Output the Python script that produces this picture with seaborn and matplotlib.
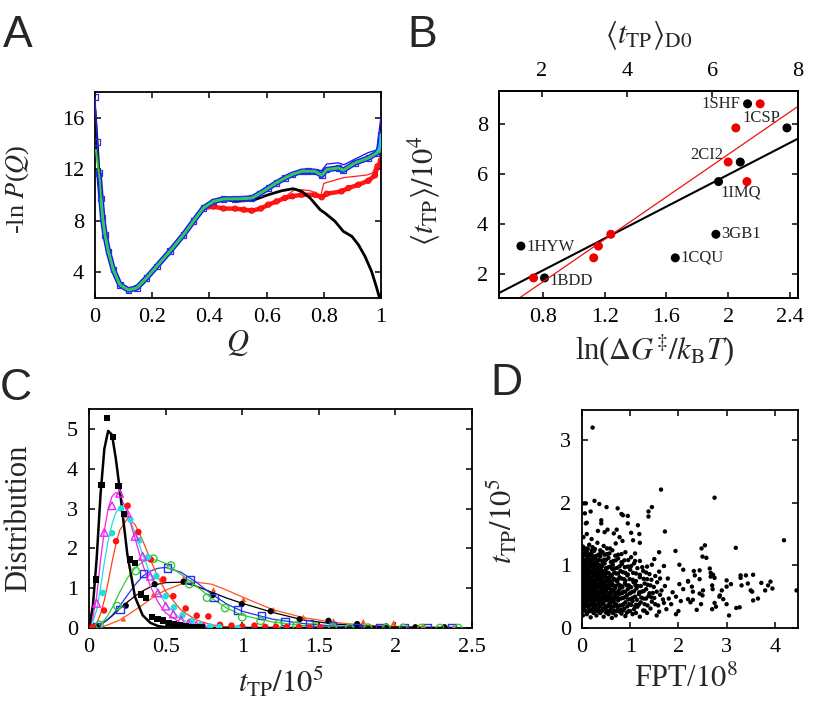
import matplotlib
matplotlib.use("Agg")
import matplotlib.pyplot as plt
import seaborn as sns

# ---------------- Panel A : -ln P(Q) ----------------
qA_base = [0.0, 0.008, 0.014, 0.021, 0.027, 0.035, 0.047, 0.064, 0.087, 0.117, 0.146,
           0.18, 0.216, 0.262, 0.309, 0.344, 0.379, 0.414, 0.449]
vA_base = [17.6, 14.1, 11.7, 9.74, 8.2, 6.9, 5.6, 4.2, 3.03, 2.62, 2.78,
           3.55, 4.46, 5.63, 6.9, 7.96, 8.99, 9.5, 9.69]
qA_main_tail = [0.49, 0.52, 0.548, 0.575, 0.606, 0.635, 0.664, 0.69, 0.723, 0.745, 0.769,
                0.793, 0.81, 0.851, 0.868, 0.909, 0.956, 0.985, 0.995, 1.0]
vA_main_tail = [9.7, 9.72, 9.77, 10.1, 10.54, 10.95, 11.32, 11.6, 11.84, 11.85, 11.84,
                11.53, 11.97, 12.1, 11.92, 12.49, 12.87, 13.26, 13.6, 14.7]
qA_black_tail = [0.49, 0.52, 0.559, 0.606, 0.653, 0.693, 0.723, 0.752, 0.787, 0.804, 0.839,
                 0.868, 0.898, 0.921, 0.944, 0.967, 0.985, 0.995]
vA_black_tail = [9.51, 9.55, 9.64, 10.02, 10.33, 10.49, 10.28, 9.77, 8.86, 8.6, 7.96,
                 7.18, 6.79, 6.14, 5.24, 4.07, 2.78, 2.0]
qA_red_tail = [0.414, 0.449, 0.49, 0.52, 0.548, 0.58, 0.606, 0.635, 0.664, 0.69, 0.723,
               0.769, 0.793, 0.81, 0.862, 0.886, 0.921, 0.956, 0.979, 0.988, 1.0]
vA_red_tail = [9.1, 8.95, 8.94, 8.86, 8.78, 8.95, 9.25, 9.5, 9.77, 9.9, 10.02,
               10.02, 9.82, 10.1, 10.28, 10.54, 10.8, 11.11, 11.53, 12.23, 12.7]
qA_red_thin = [0.664, 0.70, 0.75, 0.79, 0.80, 0.83, 0.87, 0.91, 0.95, 0.97, 0.98, 1.0]
vA_red_thin = [9.85, 10.45, 10.35, 10.0, 10.9, 11.1, 11.35, 11.45, 11.55, 11.7, 12.2, 12.8]
qA_blue_thin = [0.55, 0.6, 0.664, 0.70, 0.75, 0.793, 0.81, 0.85, 0.87, 0.91, 0.956, 0.985, 1.0]
vA_blue_thin = [9.8, 10.6, 11.45, 11.8, 12.0, 11.9, 12.4, 12.5, 12.35, 12.8, 13.3, 13.5, 16.1]
qA_green_head = [0.003, 0.0175]
vA_green_head = [13.5, 11.06]
qA_ticks = [0, 0.2, 0.4, 0.6, 0.8, 1]
qA_ticklabels = ["0", "0.2", "0.4", "0.6", "0.8", "1"]
vA_ticks = [4, 8, 12, 16]

# ---------------- Panel B : <t_TP> vs barrier ----------------
proteins = ["1BDD", "1CQU", "1HYW", "3GB1", "1IMQ", "2CI2", "1CSP", "1SHF"]
tTP_mean = [1.85, 2.65, 3.12, 3.59, 5.69, 6.47, 7.83, 8.79]
lnG = [0.81, 1.657, 0.657, 1.92, 1.937, 2.078, 2.38, 2.125]
tTP_D0 = [1.81, 3.22, 3.33, 3.62, 6.81, 6.37, 6.55, 7.12]
label_x = [0.841, 1.689, 0.696, 1.953, 1.948, 1.97, 2.089, 2.078]
label_y = [1.73, 2.65, 3.09, 3.6, 5.24, 6.76, 8.24, 8.8]
label_ha = ["left", "left", "left", "left", "left", "right", "left", "right"]

# ---------------- Panel C : t_TP distributions ----------------
fit_x = [0, 0.025, 0.05, 0.075, 0.1, 0.125, 0.15, 0.175, 0.2, 0.25, 0.3, 0.35, 0.4, 0.45,
         0.5, 0.6, 0.7, 0.8, 0.9, 1.0, 1.2, 1.4, 1.6, 1.8, 2.0, 2.2, 2.4]
fit_black_thick = [0, 0.55, 1.75, 3.35, 4.5, 4.95, 4.85, 4.25, 3.5, 1.85, 0.78, 0.32, 0.13, 0.05,
                   0.02, 0.005, 0, 0, 0, 0, 0, 0, 0, 0, 0, 0, 0]
fit_magenta = [0, 0.25, 0.8, 1.7, 2.45, 3.0, 3.3, 3.4, 3.35, 2.9, 2.25, 1.6, 1.05, 0.65,
               0.38, 0.12, 0.03, 0.01, 0, 0, 0, 0, 0, 0, 0, 0, 0]
fit_cyan = [0, 0.15, 0.45, 1.0, 1.65, 2.2, 2.6, 2.9, 3.0, 2.85, 2.4, 1.85, 1.35, 0.92,
            0.6, 0.22, 0.07, 0.02, 0.01, 0, 0, 0, 0, 0, 0, 0, 0]
fit_red = [0, 0.03, 0.12, 0.35, 0.7, 1.15, 1.65, 2.1, 2.45, 2.75, 2.6, 2.2, 1.72, 1.28,
           0.92, 0.45, 0.2, 0.08, 0.03, 0.01, 0, 0, 0, 0, 0, 0, 0]
fit_green = [0, 0.01, 0.05, 0.1, 0.2, 0.33, 0.5, 0.7, 0.9, 1.25, 1.5, 1.66, 1.72, 1.7,
             1.62, 1.35, 1.05, 0.75, 0.5, 0.32, 0.15, 0.06, 0.02, 0.01, 0, 0, 0]
fit_blue = [0, 0.01, 0.04, 0.09, 0.15, 0.23, 0.32, 0.43, 0.55, 0.82, 1.08, 1.3, 1.43, 1.5,
            1.52, 1.4, 1.15, 0.85, 0.6, 0.42, 0.22, 0.11, 0.05, 0.02, 0.01, 0, 0]
fit_black_thin = [0, 0.01, 0.05, 0.1, 0.15, 0.22, 0.3, 0.39, 0.48, 0.65, 0.8, 0.93, 1.03, 1.1,
                  1.14, 1.15, 1.05, 0.9, 0.75, 0.62, 0.39, 0.2, 0.1, 0.05, 0.02, 0.01, 0]
fit_orange = [0, 0.0, 0.01, 0.02, 0.05, 0.08, 0.12, 0.16, 0.2, 0.32, 0.45, 0.58, 0.72, 0.85,
              0.95, 1.1, 1.15, 1.1, 0.95, 0.78, 0.46, 0.26, 0.14, 0.07, 0.04, 0.02, 0.01]

sq_black_x = [0.046, 0.082, 0.119, 0.155, 0.192, 0.228, 0.265, 0.301, 0.338, 0.374, 0.41,
              0.447, 0.483, 0.52, 0.556, 0.593, 0.629, 0.666, 0.702, 0.739]
sq_black_y = [1.22, 3.6, 5.28, 4.79, 3.57, 2.86, 1.72, 1.64, 0.84, 0.76, 0.27,
              0.22, 0.19, 0.13, 0.09, 0.06, 0.04, 0.02, 0.02, 0.01]
tri_mag_x = [0.05, 0.1, 0.15, 0.2, 0.25, 0.3, 0.35, 0.4, 0.45, 0.5, 0.55, 0.6, 0.65, 0.7, 0.75]
tri_mag_y = [0.62, 2.4, 3.07, 3.38, 2.88, 2.3, 1.8, 1.3, 0.88, 0.55, 0.35, 0.2, 0.12, 0.07, 0.04]
circ_cyan_x = [0.09, 0.15, 0.21, 0.27, 0.33, 0.385, 0.44, 0.5, 0.555, 0.61, 0.67, 0.73, 0.79, 0.85, 0.97]
circ_cyan_y = [0.88, 2.38, 3.0, 2.72, 2.2, 1.78, 1.3, 0.8, 0.52, 0.32, 0.18, 0.08, 0.04, 0.02, 0.0]
circ_red_x = [0.022, 0.098, 0.176, 0.252, 0.322, 0.403, 0.485, 0.55, 0.631, 0.703, 0.779,
              0.855, 0.93, 1.0, 1.08, 1.15, 1.22, 1.29, 1.37, 1.44, 1.51]
circ_red_y = [0.02, 0.44, 2.18, 3.07, 2.41, 1.72, 1.22, 0.8, 0.49, 0.31, 0.29,
              0.08, 0.06, 0.04, 0.06, 0.03, 0.03, 0.02, 0.02, 0.01, 0.01]
circ_green_x = [0.068, 0.185, 0.305, 0.42, 0.535, 0.655, 0.77, 0.888, 1.0, 1.12, 1.235,
                1.355, 1.47, 1.59, 1.7, 1.82, 1.94, 2.05, 2.17, 2.29, 2.41]
circ_green_y = [0.08, 0.55, 1.43, 1.74, 1.57, 1.1, 0.76, 0.5, 0.27, 0.18, 0.1,
                0.06, 0.04, 0.02, 0.01, 0.01, 0.0, 0.0, 0.0, 0.0, 0.0]
sq_blue_x = [0.048, 0.202, 0.355, 0.511, 0.66, 0.816, 0.97, 1.127, 1.28, 1.438, 1.59,
             1.75, 1.9, 2.06, 2.21, 2.37]
sq_blue_y = [0.03, 0.46, 1.37, 1.51, 1.22, 0.76, 0.45, 0.31, 0.17, 0.11, 0.06,
             0.02, 0.02, 0.01, 0.0, 0.0]
dot_black_x = [0.05, 0.24, 0.428, 0.617, 0.807, 0.997, 1.186, 1.375, 1.563, 1.75, 1.94, 2.13, 2.32]
dot_black_y = [0.03, 0.56, 1.1, 1.16, 0.83, 0.6, 0.42, 0.22, 0.18, 0.1, 0.04, 0.02, 0.02]
tri_orange_x = [0.028, 0.224, 0.42, 0.617, 0.812, 1.008, 1.204, 1.4, 1.596, 1.79, 1.988, 2.18, 2.38]
tri_orange_y = [0.0, 0.23, 0.84, 1.25, 0.96, 0.72, 0.46, 0.27, 0.18, 0.16, 0.13, 0.06, 0.02]

# ---------------- Panel D : t_TP vs FPT (FPT/1e8, tTP/1e5) ----------------
fpt_ttp_pairs = [
    (0.02, 0.2), (0.1, 0.22), (0.18, 0.17), (0.3, 0.2), (0.38, 0.24), (0.45, 0.18), (0.55, 0.22),
    (0.62, 0.16), (0.7, 0.2), (0.82, 0.23), (0.9, 0.19), (1.05, 0.22), (1.2, 0.18), (1.35, 0.24),
    (1.55, 0.2), (1.95, 0.22), (3.05, 0.2),
    (0.03, 0.3), (0.08, 0.27), (0.14, 0.32), (0.2, 0.28), (0.26, 0.33), (0.33, 0.3), (0.4, 0.27),
    (0.48, 0.32), (0.52, 0.28), (0.6, 0.31), (0.67, 0.27), (0.74, 0.33), (0.8, 0.29), (0.88, 0.31),
    (0.97, 0.27), (1.08, 0.3), (1.15, 0.34), (1.27, 0.28), (1.42, 0.31), (1.6, 0.26), (1.75, 0.3),
    (2.0, 0.27), (2.38, 0.29), (2.7, 0.3), (3.2, 0.32), (3.27, 0.33), (2.78, 0.34),
    (0.01, 0.4), (0.06, 0.37), (0.11, 0.43), (0.16, 0.38), (0.22, 0.42), (0.28, 0.36), (0.35, 0.41),
    (0.42, 0.38), (0.47, 0.44), (0.55, 0.37), (0.61, 0.42), (0.68, 0.39), (0.75, 0.44), (0.83, 0.36),
    (0.9, 0.41), (0.98, 0.38), (1.05, 0.43), (1.12, 0.37), (1.22, 0.41), (1.3, 0.38), (1.45, 0.42),
    (1.58, 0.36), (1.7, 0.4), (1.85, 0.38), (2.05, 0.43), (2.25, 0.41), (2.47, 0.38), (2.75, 0.4),
    (3.0, 0.38), (3.55, 0.44), (2.3, 0.45), (2.93, 0.46),
    (0.02, 0.5), (0.05, 0.46), (0.09, 0.53), (0.13, 0.48), (0.19, 0.51), (0.24, 0.47), (0.29, 0.54),
    (0.34, 0.49), (0.39, 0.46), (0.44, 0.52), (0.5, 0.48), (0.57, 0.53), (0.63, 0.47), (0.7, 0.5),
    (0.77, 0.54), (0.85, 0.48), (0.93, 0.52), (1.0, 0.46), (1.1, 0.5), (1.18, 0.54), (1.28, 0.47),
    (1.38, 0.51), (1.5, 0.48), (1.62, 0.53), (1.8, 0.47), (1.95, 0.5), (2.2, 0.46), (2.5, 0.52),
    (2.85, 0.5), (3.65, 0.47), (2.44, 0.55), (2.86, 0.52),
    (0.0, 0.6), (0.04, 0.56), (0.08, 0.63), (0.12, 0.58), (0.17, 0.61), (0.21, 0.57), (0.27, 0.64),
    (0.31, 0.59), (0.37, 0.56), (0.41, 0.62), (0.46, 0.58), (0.53, 0.64), (0.58, 0.57), (0.65, 0.61),
    (0.72, 0.56), (0.79, 0.63), (0.86, 0.58), (0.95, 0.62), (1.03, 0.57), (1.13, 0.63), (1.24, 0.58),
    (1.33, 0.62), (1.47, 0.56), (1.65, 0.6), (1.88, 0.57), (2.1, 0.62), (2.3, 0.58), (2.51, 0.6),
    (2.9, 0.6), (3.5, 0.6), (3.8, 0.6), (4.45, 0.6), (2.71, 0.62), (3.53, 0.58),
    (0.01, 0.7), (0.05, 0.66), (0.1, 0.72), (0.15, 0.68), (0.2, 0.74), (0.25, 0.67), (0.3, 0.71),
    (0.36, 0.66), (0.4, 0.73), (0.47, 0.69), (0.54, 0.66), (0.6, 0.72), (0.66, 0.68), (0.73, 0.74),
    (0.81, 0.67), (0.89, 0.71), (0.97, 0.68), (1.07, 0.73), (1.16, 0.67), (1.3, 0.71), (1.42, 0.68),
    (1.56, 0.73), (1.72, 0.67), (2.02, 0.7), (2.28, 0.66), (2.7, 0.68), (3.0, 0.66), (3.09, 0.7),
    (3.31, 0.68), (3.44, 0.71), (3.72, 0.72), (3.86, 0.68), (3.95, 0.63), (2.2, 0.74),
    (0.02, 0.8), (0.07, 0.76), (0.11, 0.83), (0.17, 0.78), (0.22, 0.82), (0.28, 0.77), (0.33, 0.84),
    (0.38, 0.79), (0.44, 0.76), (0.49, 0.82), (0.56, 0.78), (0.62, 0.84), (0.7, 0.77), (0.78, 0.81),
    (0.87, 0.78), (0.94, 0.84), (1.05, 0.77), (1.2, 0.81), (1.35, 0.78), (1.52, 0.83), (1.78, 0.79),
    (2.2, 0.75), (2.44, 0.78), (2.67, 0.82), (2.75, 0.8), (3.0, 0.76), (3.29, 0.8), (3.55, 0.85),
    (3.91, 0.74), (2.34, 0.84),
    (0.0, 0.9), (0.04, 0.86), (0.09, 0.93), (0.14, 0.88), (0.19, 0.91), (0.25, 0.86), (0.3, 0.93),
    (0.36, 0.89), (0.42, 0.86), (0.48, 0.92), (0.55, 0.88), (0.63, 0.94), (0.71, 0.87), (0.8, 0.91),
    (0.9, 0.88), (1.0, 0.93), (1.12, 0.87), (1.27, 0.91), (1.4, 0.86), (1.6, 0.9), (2.1, 0.93),
    (2.32, 0.91), (2.44, 0.92), (2.67, 0.88), (2.72, 0.85), (3.29, 0.84), (3.4, 0.84), (2.65, 0.95),
    (0.01, 1.0), (0.05, 0.96), (0.1, 1.03), (0.16, 0.98), (0.21, 1.04), (0.27, 0.97), (0.33, 1.02),
    (0.4, 0.98), (0.47, 1.03), (0.55, 0.97), (0.64, 1.01), (0.73, 0.96), (0.83, 1.02), (0.95, 0.98),
    (1.08, 1.03), (1.25, 0.97), (1.45, 1.01), (1.7, 0.99), (2.02, 1.01),
    (0.02, 1.1), (0.06, 1.06), (0.12, 1.13), (0.18, 1.08), (0.24, 1.12), (0.31, 1.07), (0.38, 1.14),
    (0.46, 1.09), (0.55, 1.12), (0.65, 1.07), (0.75, 1.11), (0.88, 1.08), (1.02, 1.13), (1.2, 1.07),
    (1.5, 1.1), (2.5, 1.14), (2.58, 1.12),
    (0.0, 1.2), (0.04, 1.16), (0.1, 1.22), (0.17, 1.18), (0.25, 1.23), (0.34, 1.17), (0.43, 1.21),
    (0.52, 1.18), (0.63, 1.24), (0.75, 1.17), (0.9, 1.21), (1.1, 1.19), (1.6, 1.21), (1.94, 1.23),
    (0.02, 1.3), (0.08, 1.27), (0.15, 1.33), (0.22, 1.29), (0.32, 1.36), (0.45, 1.31), (0.58, 1.27),
    (0.7, 1.35), (0.84, 1.39), (1.2, 1.36), (2.48, 1.27), (2.55, 1.32), (3.19, 1.28), (4.19, 1.4),
    (0.03, 1.45), (0.1, 1.5), (0.2, 1.42), (0.33, 1.55), (0.47, 1.53), (0.53, 1.57), (0.66, 1.51),
    (0.72, 1.57), (0.78, 1.45), (1.02, 1.52), (1.06, 1.4), (1.19, 1.5), (1.72, 1.54),
    (0.08, 1.67), (0.1, 1.68), (0.4, 1.67), (0.4, 1.72), (0.06, 1.83), (0.18, 1.86), (0.85, 1.8),
    (0.95, 1.79), (0.95, 1.67), (1.16, 1.64), (1.38, 1.86), (1.38, 1.78), (1.45, 1.93), (0.51, 1.93),
    (0.74, 1.91), (0.36, 1.98), (0.04, 1.99), (0.08, 1.99), (0.26, 2.03), (0.82, 1.82),
    (0.22, 3.2), (1.64, 2.21), (2.75, 2.08),
    (0.05, 0.33), (0.12, 0.35), (0.23, 0.31), (0.37, 0.34), (0.44, 0.31), (0.57, 0.35),
    (0.03, 0.43), (0.08, 0.45), (0.19, 0.44), (0.25, 0.41), (0.32, 0.45), (0.39, 0.42), (0.51, 0.44),
    (0.58, 0.41), (0.65, 0.45),
    (0.0, 0.52), (0.07, 0.5), (0.11, 0.55), (0.16, 0.52), (0.22, 0.54), (0.27, 0.5), (0.32, 0.53),
    (0.37, 0.55), (0.42, 0.5), (0.47, 0.54), (0.54, 0.51), (0.6, 0.55), (0.67, 0.52),
    (0.02, 0.63), (0.06, 0.6), (0.1, 0.65), (0.14, 0.62), (0.19, 0.64), (0.24, 0.6), (0.29, 0.62),
    (0.34, 0.65), (0.39, 0.6), (0.44, 0.63), (0.5, 0.6), (0.56, 0.64), (0.62, 0.61), (0.69, 0.64),
    (0.03, 0.72), (0.08, 0.75), (0.13, 0.7), (0.18, 0.73), (0.22, 0.69), (0.28, 0.74), (0.33, 0.7),
    (0.38, 0.73), (0.43, 0.7), (0.5, 0.74), (0.57, 0.71), (0.63, 0.75),
    (0.0, 0.82), (0.05, 0.8), (0.09, 0.85), (0.14, 0.82), (0.19, 0.8), (0.25, 0.84), (0.31, 0.8),
    (0.36, 0.83), (0.41, 0.81), (0.47, 0.85), (0.53, 0.8), (0.59, 0.82),
    (0.02, 0.92), (0.07, 0.9), (0.12, 0.95), (0.17, 0.92), (0.22, 0.89), (0.28, 0.95), (0.33, 0.9),
    (0.39, 0.94), (0.45, 0.9), (0.51, 0.95),
    (0.03, 1.02), (0.08, 1.0), (0.13, 1.05), (0.19, 1.01), (0.24, 1.0), (0.3, 1.05), (0.36, 1.0),
    (0.43, 1.04),
    (0.0, 1.12), (0.09, 1.16), (0.15, 1.1), (0.21, 1.15), (0.28, 1.12),
    (0.0, 0.26), (0.06, 0.28), (0.11, 0.245), (0.16, 0.27), (0.24, 0.24), (0.29, 0.275), (0.35, 0.26),
    (0.43, 0.28), (0.5, 0.245), (0.58, 0.27), (0.64, 0.24), (0.72, 0.275), (0.78, 0.26), (0.85, 0.28),
    (0.93, 0.245), (1.0, 0.27), (1.12, 0.24), (1.3, 0.275),
    (0.03, 0.36), (0.09, 0.38), (0.14, 0.345), (0.2, 0.37), (0.25, 0.34), (0.31, 0.375), (0.38, 0.36),
    (0.45, 0.38), (0.52, 0.345), (0.59, 0.37), (0.66, 0.34), (0.71, 0.375), (0.79, 0.36), (0.86, 0.38),
    (0.94, 0.345), (1.02, 0.37), (1.1, 0.34), (1.18, 0.375), (1.36, 0.36), (1.52, 0.38),
    (0.01, 0.47), (0.07, 0.49), (0.15, 0.455), (0.21, 0.48), (0.27, 0.45), (0.36, 0.485), (0.41, 0.47),
    (0.48, 0.49), (0.54, 0.455), (0.6, 0.48), (0.67, 0.45), (0.74, 0.485), (0.81, 0.47), (0.89, 0.49),
    (0.96, 0.455), (1.05, 0.48), (1.14, 0.45), (1.23, 0.485), (1.33, 0.47), (1.44, 0.49), (1.68, 0.455),
    (0.02, 0.57), (0.1, 0.59), (0.15, 0.555), (0.19, 0.58), (0.25, 0.55), (0.29, 0.585), (0.35, 0.57),
    (0.39, 0.59), (0.44, 0.555), (0.49, 0.58), (0.56, 0.55), (0.62, 0.585), (0.69, 0.57), (0.76, 0.59),
    (0.83, 0.555), (0.9, 0.58), (0.99, 0.55), (1.08, 0.585), (1.19, 0.57), (1.28, 0.59), (1.4, 0.555),
    (1.55, 0.58),
    (0.0, 0.67), (0.07, 0.69), (0.12, 0.655), (0.17, 0.68), (0.23, 0.65), (0.27, 0.685), (0.33, 0.67),
    (0.38, 0.69), (0.45, 0.655), (0.51, 0.68), (0.57, 0.65), (0.63, 0.685), (0.7, 0.67), (0.77, 0.69),
    (0.84, 0.655), (0.93, 0.68), (1.02, 0.65), (1.11, 0.685), (1.22, 0.67), (1.36, 0.69), (1.49, 0.655),
    (0.04, 0.77), (0.09, 0.79), (0.14, 0.755), (0.2, 0.78), (0.25, 0.75), (0.31, 0.785), (0.35, 0.77),
    (0.41, 0.79), (0.47, 0.755), (0.53, 0.78), (0.59, 0.75), (0.66, 0.785), (0.74, 0.77), (0.82, 0.79),
    (0.9, 0.755), (0.99, 0.78), (1.12, 0.75), (1.28, 0.785), (1.44, 0.77), (1.62, 0.79),
    (0.02, 0.87), (0.07, 0.89), (0.11, 0.855), (0.17, 0.88), (0.22, 0.85), (0.28, 0.885), (0.34, 0.87),
    (0.39, 0.89), (0.45, 0.855), (0.52, 0.88), (0.59, 0.85), (0.67, 0.885), (0.75, 0.87), (0.85, 0.89),
    (0.95, 0.855), (1.06, 0.88), (1.2, 0.85), (1.33, 0.885),
    (0.0, 0.97), (0.04, 0.99), (0.12, 0.955), (0.18, 0.98), (0.24, 0.95), (0.29, 0.985), (0.35, 0.97),
    (0.42, 0.99), (0.5, 0.955), (0.58, 0.98), (0.68, 0.95), (0.78, 0.985), (0.89, 0.97), (1.02, 0.99),
    (1.15, 0.955), (1.35, 0.98),
    (0.04, 1.07), (0.09, 1.09), (0.15, 1.055), (0.21, 1.08), (0.28, 1.05), (0.35, 1.085), (0.42, 1.07),
    (0.5, 1.09), (0.6, 1.055), (0.7, 1.08), (0.82, 1.05), (0.96, 1.085), (1.1, 1.07),
    (0.02, 1.17), (0.07, 1.19), (0.13, 1.155), (0.2, 1.18), (0.29, 1.15), (0.38, 1.185), (0.47, 1.17),
    (0.57, 1.19), (0.69, 1.155), (0.82, 1.18),
    (0.05, 1.25), (0.12, 1.27), (0.2, 1.235), (0.27, 1.26), (0.38, 1.24), (0.52, 1.27),
]
fpt_vals = [p[0] for p in fpt_ttp_pairs]
ttp_vals = [p[1] for p in fpt_ttp_pairs]

# ---------------- style ----------------
SERIF = "Liberation Serif"
sns.set_theme(style="ticks")
plt.rcParams["font.family"] = [SERIF, "DejaVu Serif"]
plt.rcParams["font.serif"] = [SERIF, "DejaVu Serif"]
plt.rcParams["mathtext.fontset"] = "stix"
plt.rcParams["axes.linewidth"] = 1.3
plt.rcParams["xtick.direction"] = "in"
plt.rcParams["ytick.direction"] = "in"
plt.rcParams["xtick.major.size"] = 4.5
plt.rcParams["ytick.major.size"] = 4.5
plt.rcParams["xtick.major.width"] = 1.1
plt.rcParams["ytick.major.width"] = 1.1
plt.rcParams["xtick.labelsize"] = 16
plt.rcParams["ytick.labelsize"] = 16
plt.rcParams["axes.edgecolor"] = "black"
plt.rcParams["xtick.color"] = "black"
plt.rcParams["ytick.color"] = "black"
LABEL_FS = 22

fig = plt.figure(figsize=(8.16, 7.1), dpi=100)
axA = fig.add_axes([0.1164, 0.5803, 0.3505, 0.2901])
axB = fig.add_axes([0.6115, 0.5803, 0.3661, 0.2915])
axC = fig.add_axes([0.1091, 0.1155, 0.4694, 0.3085])
axD = fig.add_axes([0.7132, 0.1155, 0.2647, 0.3070])


def line(ax, x, y, color, lw, z=2):
    sns.lineplot(x=x, y=y, sort=False, estimator=None, color=color, lw=lw, ax=ax, zorder=z)


def style_box(ax, top=True):
    ax.tick_params(which="both", top=top, right=True, direction="in",
                   labelfontfamily=SERIF, labelsize=16)
    ax.tick_params(axis="x", pad=7)
    ax.tick_params(axis="y", pad=8)
    for s in ax.spines.values():
        s.set_visible(True)
        s.set_linewidth(1.3)


# ---- Panel A ----
red_q = qA_base[:-2] + qA_red_tail
red_v = vA_base[:-2] + vA_red_tail
line(axA, red_q[2:], red_v[2:], "#ff1a1a", 3.2, 2)
sns.scatterplot(x=qA_red_tail, y=vA_red_tail, marker="o", s=14, facecolor="none",
                edgecolor="#ff0000", linewidth=0.8, ax=axA, zorder=2)
line(axA, qA_red_thin, vA_red_thin, "#ff2020", 0.9, 2)
black_q = [0.0, 0.008] + qA_base[2:] + qA_black_tail
black_v = [16.6, 14.0] + vA_base[2:] + vA_black_tail
line(axA, black_q, black_v, "black", 2.0, 3)
main_q = qA_base + qA_main_tail
main_v = vA_base + vA_main_tail
line(axA, qA_blue_thin, vA_blue_thin, "#1010ee", 0.9, 3)
line(axA, main_q[:4], main_v[:4], "#2020ee", 1.0, 4)
line(axA, main_q[2:], main_v[2:], "#1a1ae6", 4.0, 4)
sns.scatterplot(x=main_q, y=main_v, marker="s", s=16, facecolor="none",
                edgecolor="#3030dd", linewidth=0.9, ax=axA, zorder=4)
line(axA, main_q[3:], main_v[3:], "#22cccc", 2.0, 5)
green_q = qA_green_head + qA_base[3:] + qA_main_tail[:-2] + [1.0]
green_v = vA_green_head + vA_base[3:] + vA_main_tail[:-2] + [13.4]
line(axA, green_q, green_v, "#33cc33", 1.4, 6)
axA.set_xlim(0, 1)
axA.set_ylim(2, 18)
axA.set_xticks(qA_ticks)
axA.set_xticklabels(qA_ticklabels)
axA.set_yticks(vA_ticks)
style_box(axA)
axA.set_xlabel(r"$Q$", fontsize=LABEL_FS)
axA.set_ylabel(r"-ln $P$($Q$)", fontsize=19)
axA.xaxis.set_label_coords(0.5, -0.15)
axA.yaxis.set_label_coords(-0.225, 0.53)

# ---- Panel B ----
axB.set_xlim(0.515, 2.45)
axB.set_ylim(1.05, 9.3)
sns.regplot(x=lnG, y=tTP_mean, scatter=False, ci=None, truncate=False, ax=axB,
            line_kws=dict(color="black", lw=1.5, zorder=2))
sns.scatterplot(x=lnG, y=tTP_mean, color="black", s=42, edgecolor="none", ax=axB, zorder=4)
axB.set_xlim(0.515, 2.45)
axB.set_ylim(1.05, 9.3)
axB.set_xticks([0.8, 1.2, 1.6, 2.0, 2.4])
axB.set_xticklabels(["0.8", "1.2", "1.6", "2", "2.4"])
axB.set_yticks([2, 4, 6, 8])
for name, lx, ly, ha in zip(proteins, label_x, label_y, label_ha):
    axB.text(lx, ly, name, fontsize=12, ha=ha, va="center", zorder=5)
style_box(axB, top=False)
axB.set_xlabel(r"ln($\Delta G^{\ddagger}/k_{\rm B}T$)", fontsize=LABEL_FS)
axB.set_ylabel(r"$\langle t_{\rm TP}\rangle/10^4$", fontsize=LABEL_FS)
axB.xaxis.set_label_coords(0.52, -0.165)
axB.yaxis.set_label_coords(-0.19, 0.52)

axT = axB.twiny()
axT.set_xlim(1, 8)
axT.set_ylim(1.05, 9.3)
sns.regplot(x=tTP_D0, y=tTP_mean, scatter=False, ci=None, truncate=False, ax=axT,
            line_kws=dict(color="#ee1111", lw=0.9, zorder=2))
sns.scatterplot(x=tTP_D0, y=tTP_mean, color="#ee0000", s=42, edgecolor="none", ax=axT, zorder=4)
axT.set_xlim(1, 8)
axT.set_ylim(1.05, 9.3)
axT.set_xticks([2, 4, 6, 8])
axT.set_xticklabels(["2", "4", "6", "8"])
axT.tick_params(axis="x", top=True, bottom=False, direction="in", pad=7, labelsize=16,
                labelfontfamily=SERIF)
axT.set_xlabel(r"$\langle t_{\rm TP}\rangle_{\rm D0}$", fontsize=LABEL_FS)
axT.xaxis.set_label_coords(0.5, 1.23)
axT.set_ylabel("")

# ---- Panel C ----
series_lines = [
    (fit_orange, "#ff5522", 0.9), (fit_black_thin, "black", 0.9), (fit_blue, "#2233ee", 0.9),
    (fit_green, "#33cc33", 0.9), (fit_red, "#ff4411", 0.9), (fit_cyan, "#22dddd", 0.9),
    (fit_magenta, "#ee22ee", 0.9), (fit_black_thick, "black", 1.8),
]
for ys, col, lw in series_lines:
    line(axC, fit_x, ys, col, lw, 2)
sns.scatterplot(x=tri_orange_x, y=tri_orange_y, marker="^", s=16, color="#ff5522",
                edgecolor="none", ax=axC, zorder=3)
sns.scatterplot(x=dot_black_x, y=dot_black_y, marker="o", s=20, color="black",
                edgecolor="none", ax=axC, zorder=3)
sns.scatterplot(x=sq_blue_x, y=sq_blue_y, marker="s", s=28, facecolor="none",
                edgecolor="#2233ee", linewidth=1.0, ax=axC, zorder=3)
sns.scatterplot(x=circ_green_x, y=circ_green_y, marker="o", s=28, facecolor="none",
                edgecolor="#33cc33", linewidth=1.0, ax=axC, zorder=3)
sns.scatterplot(x=circ_red_x, y=circ_red_y, marker="o", s=22, color="#ff1111",
                edgecolor="none", ax=axC, zorder=3)
sns.scatterplot(x=circ_cyan_x, y=circ_cyan_y, marker="o", s=22, color="#22dddd",
                edgecolor="none", ax=axC, zorder=3)
sns.scatterplot(x=tri_mag_x, y=tri_mag_y, marker="^", s=30, facecolor="none",
                edgecolor="#ee22ee", linewidth=1.0, ax=axC, zorder=3)
sns.scatterplot(x=sq_black_x, y=sq_black_y, marker="s", s=20, color="black",
                edgecolor="none", ax=axC, zorder=4)
axC.set_xlim(0, 2.5)
axC.set_ylim(0, 5.5)
axC.set_xticks([0, 0.5, 1, 1.5, 2, 2.5])
axC.set_xticklabels(["0", "0.5", "1", "1.5", "2", "2.5"])
axC.set_yticks([0, 1, 2, 3, 4, 5])
style_box(axC)
axC.set_xlabel(r"$t_{\rm TP}/10^5$", fontsize=LABEL_FS)
axC.set_ylabel("Distribution", fontsize=LABEL_FS)
axC.xaxis.set_label_coords(0.5, -0.17)
axC.yaxis.set_label_coords(-0.146, 0.5)

# ---- Panel D ----
sns.scatterplot(x=fpt_vals, y=ttp_vals, color="black", s=10, edgecolor="none", ax=axD, zorder=3)
axD.set_xlim(0, 4.48)
axD.set_ylim(0, 3.48)
axD.set_xticks([0, 1, 2, 3, 4])
axD.set_yticks([0, 1, 2, 3])
style_box(axD)
axD.set_xlabel(r"FPT/$10^8$", fontsize=LABEL_FS)
axD.set_ylabel(r"$t_{\rm TP}/10^5$", fontsize=LABEL_FS)
axD.xaxis.set_label_coords(0.48, -0.17)
axD.yaxis.set_label_coords(-0.287, 0.49)

# ---- Panel letters ----
for letter, lx, ly in [("A", 0.003, 0.934), ("B", 0.499, 0.934), ("C", 0.0, 0.4366), ("D", 0.6005, 0.4437)]:
    fig.text(lx, ly, letter, fontsize=32, family=["Liberation Sans", "DejaVu Sans"],
             ha="left", va="baseline")

fig.savefig("out.png", dpi=100)
